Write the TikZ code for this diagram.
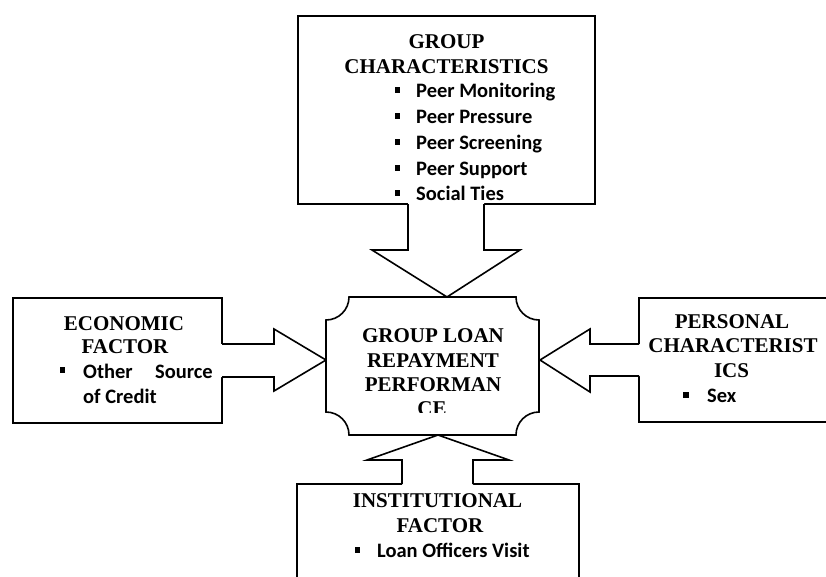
\documentclass[tikz,border=0pt]{standalone}
\usepackage{fontspec}
\setmainfont{Liberation Serif}
\newfontfamily\itemfont{Carlito}
\begin{document}
\begin{tikzpicture}[x=1pt,y=-1pt,
  boxline/.style={draw=black, line width=1.6pt, fill=white},
  arrline/.style={draw=black, line width=1.6pt, line join=miter},
  head/.style={font=\fontsize{21}{24}\selectfont\bfseries, anchor=base, inner sep=0pt},
  item/.style={font=\itemfont\fontsize{20.5}{23}\selectfont\bfseries, anchor=base west, inner sep=0pt},
  bulletsq/.style={fill=black, minimum size=5.5pt, inner sep=0pt, outer sep=0pt}]
\useasboundingbox (0,0) rectangle (826,576);
\clip (0,0) rectangle (826,576);

% boxes
\path[boxline] (298,16) rectangle (595,204);
\path[boxline] (13,298) rectangle (222,423);
\path[boxline] (639,298) rectangle (845,422);
\path[boxline] (297,484) rectangle (579,600);

% top arrow
\fill[white] (408,200) -- (408,250) -- (372,250) -- (447,297) -- (520,250) -- (484,250) -- (484,200) -- cycle;
\draw[arrline] (408,204) -- (408,250) -- (372,250) -- (447,297) -- (520,250) -- (484,250) -- (484,204);
% left arrow
\fill[white] (218,344) -- (274,344) -- (274,329) -- (326,360) -- (274,391) -- (274,377) -- (218,377) -- cycle;
\draw[arrline] (222,344) -- (274,344) -- (274,329) -- (326,360) -- (274,391) -- (274,377) -- (222,377);
% right arrow
\fill[white] (643,344) -- (590,344) -- (590,329) -- (540,360) -- (590,392) -- (590,376) -- (643,376) -- cycle;
\draw[arrline] (639,344) -- (590,344) -- (590,329) -- (540,360) -- (590,392) -- (590,376) -- (639,376);
% bottom arrow
\fill[white] (402,488) -- (402,460) -- (367,460) -- (438,435) -- (509,460) -- (473,460) -- (473,488) -- cycle;
\draw[arrline] (402,484) -- (402,460) -- (367,460) -- (438,435) -- (509,460) -- (473,460) -- (473,484);

% centre plaque
\draw[boxline] (349,297) -- (516,297) arc[start angle=180, end angle=90, radius=23]
  -- (539,412) arc[start angle=270, end angle=180, radius=23]
  -- (349,435) arc[start angle=0, end angle=-90, radius=23]
  -- (326,320) arc[start angle=90, end angle=0, radius=23] -- cycle;

% top box text
\node[head] (g1) at (446.5,48) {GROUP};
\node[head] (g2) at (446.5,73) {CHARACTERISTICS};
\node[bulletsq] (gb1) at (397.5,90) {};
\node[item] (gi1) at (416,97) {Peer Monitoring};
\node[bulletsq] (gb2) at (397.5,116) {};
\node[item] (gi2) at (416,123) {Peer Pressure};
\node[bulletsq] (gb3) at (397.5,142) {};
\node[item] (gi3) at (416,149) {Peer Screening};
\node[bulletsq] (gb4) at (397.5,168) {};
\node[item] (gi4) at (416,175) {Peer Support};
\node[bulletsq] (gb5) at (397.5,193) {};
\node[item] (gi5) at (416,200) {Social Ties};

% left box text
\node[head] (e1) at (124,330) {ECONOMIC};
\node[head] (e2) at (125,353) {FACTOR};
\node[bulletsq] (eb1) at (62.5,370) {};
\node[item] (ei1) at (83,378) {Other};
\node[item, anchor=base east] (ei2) at (213,378) {Source};
\node[item] (ei3) at (83,403) {of Credit};

% right box text
\node[head] (p1) at (732,328) {PERSONAL};
\node[head] (p2) at (733,352) {CHARACTERIST};
\node[head] (p3) at (731.5,377) {ICS};
\node[bulletsq] (pb1) at (686,395) {};
\node[item] (pi1) at (707,402) {Sex};

% bottom box text
\node[head] (n1) at (437.5,507) {INSTITUTIONAL};
\node[head] (n2) at (440,532) {FACTOR};
\node[bulletsq] (nb1) at (357.5,550) {};
\node[item] (ni1) at (377,557) {Loan Officers Visit};

% centre text (clipped)
\begin{scope}
\clip (326,297) rectangle (539,412);
\node[head] (c1) at (433,342) {GROUP LOAN};
\node[head] (c2) at (433,367) {REPAYMENT};
\node[head] (c3) at (433,391) {PERFORMAN};
\node[head] (c4) at (432,415) {CE};
\end{scope}
\end{tikzpicture}
\end{document}
